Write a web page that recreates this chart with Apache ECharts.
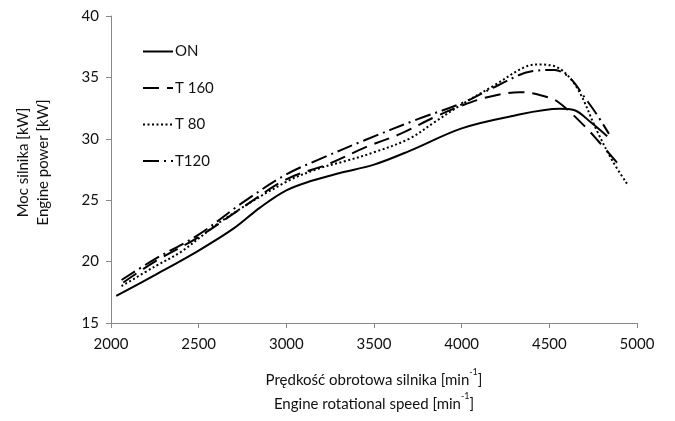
<!DOCTYPE html>
<html>
<head>
<meta charset="utf-8">
<script src="https://cdn.jsdelivr.net/npm/echarts@6/dist/echarts.min.js"></script>
<style>html,body{margin:0;padding:0;background:#fff}#c{width:675px;height:421px}</style>
</head>
<body>
<div id="c"></div>
<script>
const xTicks = [2000, 2500, 3000, 3500, 4000, 4500, 5000];
const yTicks = [15, 20, 25, 30, 35, 40];

const onX   = [2030, 2250, 2500, 2700, 2850, 3000, 3150, 3300, 3500, 3700, 4000, 4270, 4560, 4640, 4740, 4830];
const onY   = [17.2, 18.9, 20.9, 22.7, 24.4, 25.8, 26.6, 27.2, 27.9, 29.0, 30.85, 31.8, 32.45, 32.35, 31.3, 30.2];

const t160X = [2070, 2250, 2500, 2750, 3000, 3250, 3450, 3650, 3850, 4000, 4150, 4330, 4450, 4550, 4710, 4780, 4890];
const t160Y = [18.3, 20.0, 22.0, 24.4, 26.7, 28.0, 29.3, 30.4, 31.8, 32.7, 33.4, 33.8, 33.55, 33.0, 30.9, 29.8, 28.0];

const t80X  = [2060, 2250, 2400, 2630, 3000, 3190, 3340, 3500, 3700, 3850, 4000, 4180, 4370, 4450, 4560, 4660, 4770, 4860, 4945];
const t80Y  = [18.0, 19.6, 20.8, 23.3, 26.5, 27.6, 28.2, 28.9, 30.0, 31.4, 32.8, 34.3, 35.9, 36.05, 35.7, 34.1, 30.7, 28.2, 26.3];

const t120X = [2060, 2250, 2500, 2750, 3000, 3200, 3450, 3750, 4000, 4200, 4400, 4530, 4620, 4700, 4770, 4840];
const t120Y = [18.5, 20.2, 22.2, 24.8, 27.1, 28.4, 29.9, 31.6, 32.9, 34.3, 35.5, 35.6, 34.9, 33.4, 32.0, 30.4];

const names = ['ON', 'T 160', 'T 80', 'T120'];

const FONT = 'Lato';
function pairs(xs, ys) { return xs.map((x, i) => [x, ys[i]]); }

const chart = echarts.init(document.getElementById('c'), null, {renderer: 'canvas'});
const mk = (name, xs, ys, type, width) => ({
  name: name, type: 'line', data: pairs(xs, ys), smooth: 0.35,
  symbol: 'none', showSymbol: false,
  lineStyle: {color: '#000', width: width, type: type, cap: 'butt'},
  itemStyle: {color: '#000'}
});

chart.setOption({
  animation: false,
  backgroundColor: '#fff',
  textStyle: {fontFamily: FONT},
  grid: {left: 111, right: 38, top: 16, bottom: 96},
  legend: {
    orient: 'vertical', left: 137, top: 39,
    itemWidth: 30, itemHeight: 14, itemGap: 21.5,
    itemStyle: {color: 'rgba(0,0,0,0)', borderWidth: 0, opacity: 0},
    textStyle: {fontFamily: FONT, fontSize: 15, color: '#111', padding: [0, 0, 0, -3]},
    data: names
  },
  xAxis: {
    type: 'value', min: 2000, max: 5000, interval: 500,
    axisLine: {lineStyle: {color: '#888', width: 1}},
    axisTick: {show: true, length: 5, lineStyle: {color: '#888'}},
    splitLine: {show: false},
    axisLabel: {fontFamily: FONT, fontSize: 15, color: '#111', margin: 14, formatter: v => String(v)},
    name: 'Prędkość obrotowa silnika [min{s|-1}]\nEngine rotational speed [min{s|-1}]',
    nameLocation: 'middle', nameGap: 45,
    nameTextStyle: {fontFamily: FONT, fontSize: 15, color: '#111', lineHeight: 24,
      rich: {s: {fontFamily: FONT, fontSize: 9, color: '#111', verticalAlign: 'top', lineHeight: 24, padding: [0,0,6,0]}}}
  },
  yAxis: {
    type: 'value', min: 15, max: 40, interval: 5,
    axisLine: {show: true, lineStyle: {color: '#888', width: 1}},
    axisTick: {show: true, length: 5, lineStyle: {color: '#888'}},
    splitLine: {show: false},
    axisLabel: {fontFamily: FONT, fontSize: 15, color: '#111', margin: 12},
    name: 'Moc silnika [kW]\nEngine power [kW]',
    nameLocation: 'middle', nameGap: 58,
    nameTextStyle: {fontFamily: FONT, fontSize: 15, color: '#111', lineHeight: 20, padding: [0, 0, 0, 14]}
  },
  series: [
    mk(names[0], onX, onY, 'solid', 2),
    mk(names[1], t160X, t160Y, [16, 8], 2),
    mk(names[2], t80X, t80Y, [2, 2.5], 2),
    mk(names[3], t120X, t120Y, [16, 5, 2, 5], 2)
  ]
});
</script>
</body>
</html>
